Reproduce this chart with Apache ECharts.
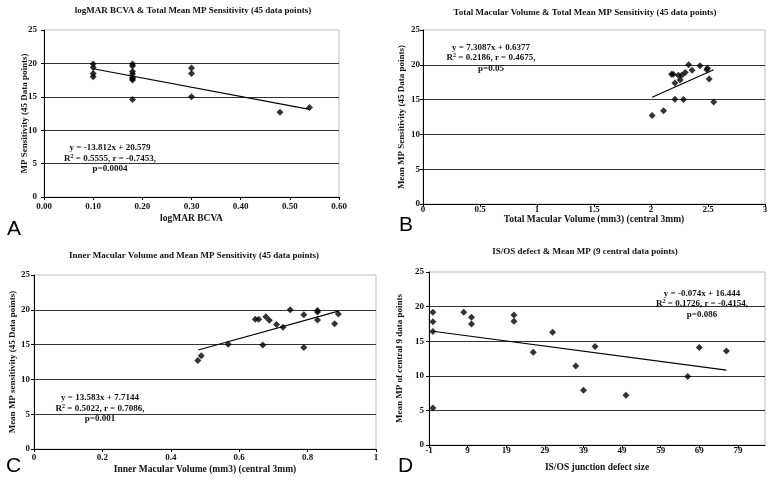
<!DOCTYPE html>
<html><head><meta charset="utf-8">
<script src="https://cdn.jsdelivr.net/npm/echarts@6/dist/echarts.min.js"></script>
<style>html,body{margin:0;padding:0;background:#fff}#c{width:774px;height:489px}</style>
</head><body><div id="c"></div>
<script>
const SERIF = '"Liberation Serif","Times New Roman",serif';
const SANS = '"Liberation Sans",Arial,sans-serif';

// ---------- Panel A ----------
const titleA = 'logMAR BCVA & Total Mean MP Sensitivity (45 data points)';
const xNameA = 'logMAR BCVA';
const yNameA = 'MP Sensitivity (45 Data points)';
const xRangeA = [0, 0.6, 0.1];
const pointsA = [
  [0.10,19.9],[0.10,19.4],[0.10,18.5],[0.10,18.0],
  [0.18,19.9],[0.18,19.6],[0.18,18.8],[0.18,18.4],[0.18,17.9],[0.18,17.7],[0.18,17.5],[0.18,14.6],
  [0.30,19.3],[0.30,18.5],[0.30,15.0],
  [0.48,12.7],[0.54,13.4]
];
const trendA = [[0.10,19.20],[0.54,13.12]];
const eqA = ['y = -13.812x + 20.579','R{s|2} = 0.5555, r = -0.7453,','p=0.0004'];

// ---------- Panel B ----------
const titleB = 'Total Macular Volume & Total Mean MP Sensitivity (45 data points)';
const xNameB = 'Total Macular Volume (mm3) (central 3mm)';
const yNameB = 'Mean MP Sensitivity (45 Data points)';
const xRangeB = [0, 3, 0.5];
const pointsB = [
  [2.01,12.7],[2.11,13.4],[2.18,18.65],[2.195,18.65],[2.21,17.4],[2.21,15.05],
  [2.24,18.5],[2.255,17.8],[2.27,18.5],[2.285,15.0],[2.30,18.9],[2.33,20.0],
  [2.36,19.2],[2.43,19.85],[2.49,19.3],[2.495,19.5],[2.51,17.95],[2.55,14.65]
];
const trendB = [[2.01,15.33],[2.55,19.28]];
const eqB = ['y = 7.3087x + 0.6377','R{s|2} = 0.2186, r = 0.4675,','p=0.05'];

// ---------- Panel C ----------
const titleC = 'Inner Macular Volume and Mean MP Sensitivity (45 data points)';
const xNameC = 'Inner Macular Volume (mm3) (central 3mm)';
const yNameC = 'Mean MP sensitivity (45 Data points)';
const xRangeC = [0, 1, 0.2];
const pointsC = [
  [0.479,12.7],[0.489,13.4],[0.568,15.05],[0.647,18.65],[0.657,18.65],[0.669,14.95],
  [0.678,19.0],[0.688,18.5],[0.709,17.9],[0.728,17.5],[0.749,20.0],[0.789,19.3],
  [0.789,14.6],[0.829,19.9],[0.829,19.7],[0.829,18.55],[0.879,18.0],[0.89,19.4]
];
const trendC = [[0.48,14.23],[0.89,19.80]];
const eqC = ['y = 13.583x + 7.7144','R{s|2} = 0.5022, r = 0.7086,','p=0.001'];

// ---------- Panel D ----------
const titleD = 'IS/OS defect & Mean MP (9 central data points)';
const xNameD = 'IS/OS junction defect size';
const yNameD = 'Mean MP of central 9 data points';
const xRangeD = [-1, 86, 10];
const pointsD = [
  [0,19.2],[0,17.8],[0,16.4],[0,5.35],
  [8,19.2],[10,18.45],[10,17.5],[21,18.8],[21,17.9],
  [26,13.4],[31,16.3],[37,11.4],[39,7.9],[42,14.25],
  [50,7.2],[66,9.9],[69,14.1],[76,13.6]
];
const trendD = [[0,16.44],[76,10.82]];
const eqD = ['y = -0.074x + 16.444','R{s|2} = 0.1726, r = -0.4154,','p=0.086'];

const yRange = [0, 25, 5];

// ---------- layout ----------
const grids = [
  {left:44, top:30, width:295, height:167},
  {left:423, top:30, width:342, height:174},
  {left:34, top:275, width:342, height:174},
  {left:429, top:272, width:336, height:173}
];
const panels = [
  {title:titleA, xName:xNameA, yName:yNameA, xr:xRangeA, pts:pointsA, tr:trendA, eq:eqA,
   fmt:v=>v.toFixed(2), xLabM:5, xNameGap:17, yLabM:7, yNameGap:15, titlePos:[193,11], eqPos:[110,148], letter:'A', letterPos:[7,229]},
  {title:titleB, xName:xNameB, yName:yNameB, xr:xRangeB, pts:pointsB, tr:trendB, eq:eqB,
   fmt:v=>String(v), xLabM:1, xNameGap:11, yLabM:3, yNameGap:17, titlePos:[585,13], eqPos:[491,47.5], letter:'B', letterPos:[399,225]},
  {title:titleC, xName:xNameC, yName:yNameC, xr:xRangeC, pts:pointsC, tr:trendC, eq:eqC,
   fmt:v=>String(v), xLabM:4, xNameGap:16, yLabM:4, yNameGap:17, titlePos:[194,256], eqPos:[100,398], letter:'C', letterPos:[6,466]},
  {title:titleD, xName:xNameD, yName:yNameD, xr:xRangeD, pts:pointsD, tr:trendD, eq:eqD,
   fmt:v=>String(v), xLabM:1, xNameGap:18, yLabM:5, yNameGap:25, titlePos:[585,252], eqPos:[702,293.5], letter:'D', letterPos:[398,466]}
];

const labelFont = {fontFamily:SERIF, fontWeight:'bold', fontSize:9, color:'#111'};
const xAxes = [], yAxes = [], series = [], graphics = [];
panels.forEach((p, i) => {
  xAxes.push({
    type:'value', gridIndex:i, min:p.xr[0], max:p.xr[1], interval:p.xr[2],
    name:p.xName, nameLocation:'middle', nameGap:p.xNameGap, nameMoveOverlap:false,
    nameTextStyle:{fontFamily:SERIF, fontWeight:'bold', fontSize:9.5, color:'#111'},
    axisLine:{show:true, onZero:false, lineStyle:{color:'#000', width:1}},
    axisTick:{show:true, length:3, lineStyle:{color:'#000'}},
    axisLabel:Object.assign({margin:p.xLabM, formatter:p.fmt, showMaxLabel: i===3 ? false : true}, labelFont),
    splitLine:{show:false}
  });
  yAxes.push({
    type:'value', gridIndex:i, min:yRange[0], max:yRange[1], interval:yRange[2],
    name:p.yName, nameLocation:'middle', nameGap:p.yNameGap, nameRotate:90, nameMoveOverlap:false,
    nameTextStyle:{fontFamily:SERIF, fontWeight:'bold', fontSize:9, color:'#111'},
    axisLine:{show:true, onZero:false, lineStyle:{color:'#000', width:1}},
    axisTick:{show:true, length:3, lineStyle:{color:'#000'}},
    axisLabel:Object.assign({margin:p.yLabM}, labelFont),
    splitLine:{show:true, showMinLine:false, showMaxLine:false, lineStyle:{color:'#333', width:1}}
  });
  series.push({
    type:'scatter', xAxisIndex:i, yAxisIndex:i, data:p.pts,
    symbol:'diamond', symbolSize:7, itemStyle:{color:'#000'}, silent:true, z:3
  });
  series.push({
    type:'line', xAxisIndex:i, yAxisIndex:i, data:p.tr,
    showSymbol:false, symbol:'none', lineStyle:{color:'#000', width:1.2}, silent:true, z:2
  });
  graphics.push({
    type:'text', x:p.titlePos[0], y:p.titlePos[1], silent:true,
    style:{text:p.title, align:'center', verticalAlign:'middle',
      fontFamily:SERIF, fontWeight:'bold', fontSize:9, fill:'#111'}
  });
  graphics.push({
    type:'text', x:p.eqPos[0], y:p.eqPos[1]-5.25, silent:true, z:10,
    style:{text:p.eq.join('\n'), align:'center', verticalAlign:'top', lineHeight:10.5,
      fontFamily:SERIF, fontWeight:'bold', fontSize:9, fill:'#111',
      rich:{s:{fontFamily:SERIF, fontWeight:'bold', fontSize:6, verticalAlign:'top', lineHeight:10.5, fill:'#111'}}}
  });
  graphics.push({
    type:'text', x:p.letterPos[0], y:p.letterPos[1], silent:true,
    style:{text:p.letter, align:'left', verticalAlign:'middle',
      fontFamily:SANS, fontWeight:'normal', fontSize:21, fill:'#000'}
  });
});

const chart = echarts.init(document.getElementById('c'), null, {renderer:'canvas'});
chart.setOption({
  backgroundColor:'#fff',
  animation:false,
  grid:grids.map(g => Object.assign({show:true, borderColor:'#bdbdbd', borderWidth:1, backgroundColor:'transparent'}, g)),
  xAxis:xAxes, yAxis:yAxes, series:series, graphic:graphics
});
</script>
</body></html>
